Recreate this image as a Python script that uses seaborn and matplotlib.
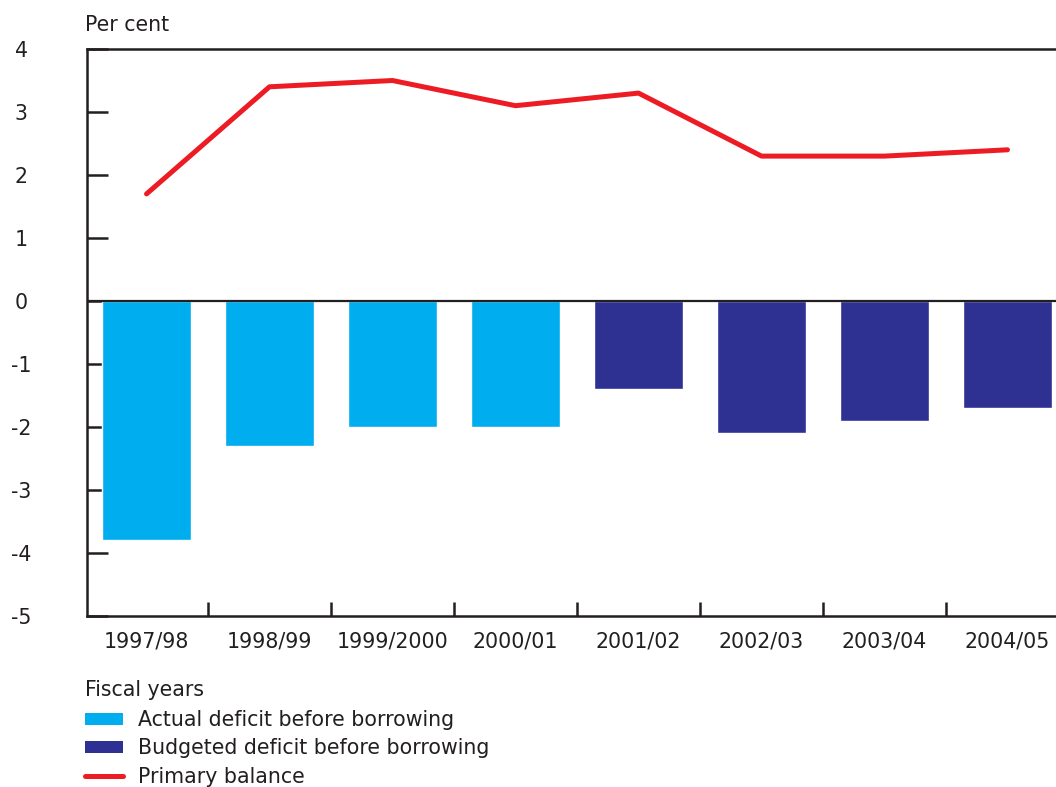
import matplotlib
matplotlib.use("Agg")
import matplotlib.pyplot as plt
import seaborn as sns
import pandas as pd
from matplotlib.patches import Patch
from matplotlib.lines import Line2D
from matplotlib.ticker import FixedLocator, NullFormatter

# Fiscal years and series (per cent)
years = ["1997/98", "1998/99", "1999/2000", "2000/01",
         "2001/02", "2002/03", "2003/04", "2004/05"]
deficit = [-3.8, -2.3, -2.0, -2.0, -1.4, -2.1, -1.9, -1.7]
deficit_kind = ["Actual", "Actual", "Actual", "Actual",
                "Budgeted", "Budgeted", "Budgeted", "Budgeted"]
primary_balance = [1.7, 3.4, 3.5, 3.1, 3.3, 2.3, 2.3, 2.4]
y_ticks = [4, 3, 2, 1, 0, -1, -2, -3, -4, -5]

LIGHT_BLUE = "#00AEEF"
DARK_BLUE = "#2E3192"
RED = "#ED1C24"
TEXT = "#231F20"
FS = 14.8

sns.set_theme(style="white")
plt.rcParams["font.family"] = ["DejaVu Sans"]
plt.rcParams["text.color"] = TEXT

df = pd.DataFrame({"year": years, "deficit": deficit,
                   "kind": deficit_kind, "primary": primary_balance})

W, H = 1056, 787
fig = plt.figure(figsize=(W / 100, H / 100), dpi=100)
x0, x1, y0, y1 = 87, 1069, 49, 616
ax = fig.add_axes([x0 / W, 1 - y1 / H, (x1 - x0) / W, (y1 - y0) / H])

sns.barplot(data=df, x="year", y="deficit", hue="kind",
            palette={"Actual": LIGHT_BLUE, "Budgeted": DARK_BLUE},
            dodge=False, width=0.72, saturation=1, legend=False, ax=ax,
            order=years)
sns.lineplot(data=df, x="year", y="primary", color=RED, linewidth=3.6,
             sort=False, legend=False, ax=ax, solid_capstyle="round")

ax.axhline(0, color="#231F20", linewidth=1.6, zorder=3)

ax.set_xlim(-0.484, 7.5)
ax.set_ylim(-5, 4)
ax.set_yticks(y_ticks)
ax.set_yticklabels([str(v) for v in y_ticks], ha="center")
ax.set_xlabel("")
ax.set_ylabel("")

for side in ["left", "bottom", "top", "right"]:
    ax.spines[side].set_color("#231F20")
    ax.spines[side].set_linewidth(1.8)

ax.tick_params(axis="y", direction="in", length=15, width=1.8,
               color="#231F20", pad=47.5, labelsize=FS, labelcolor=TEXT,
               left=True)
ax.tick_params(axis="x", which="major", length=0, pad=11.5,
               labelsize=FS, labelcolor=TEXT, bottom=True)
ax.xaxis.set_minor_locator(FixedLocator([i + 0.5 for i in range(len(years) - 1)]))
ax.xaxis.set_minor_formatter(NullFormatter())
ax.tick_params(axis="x", which="minor", direction="in", length=10,
               width=1.8, color="#231F20", bottom=True)

fig.text(85 / W, 1 - 25 / H, "Per cent", fontsize=FS, va="center",
         ha="left", color=TEXT)
fig.text(85 / W, 1 - 690 / H, "Fiscal years", fontsize=FS, va="center",
         ha="left", color=TEXT)

handles = [
    Patch(facecolor=LIGHT_BLUE, edgecolor="none", label="Actual deficit before borrowing"),
    Patch(facecolor=DARK_BLUE, edgecolor="none", label="Budgeted deficit before borrowing"),
    Line2D([0], [0], color=RED, linewidth=3.6, label="Primary balance"),
]
fig.legend(handles=handles, loc="upper left",
           bbox_to_anchor=(85 / W, 1 - 710 / H), frameon=False,
           fontsize=FS, handlelength=1.85, handleheight=0.5,
           handletextpad=0.73, labelspacing=0.41, borderpad=0,
           borderaxespad=0, labelcolor=TEXT)

fig.savefig("out.png", dpi=100)
